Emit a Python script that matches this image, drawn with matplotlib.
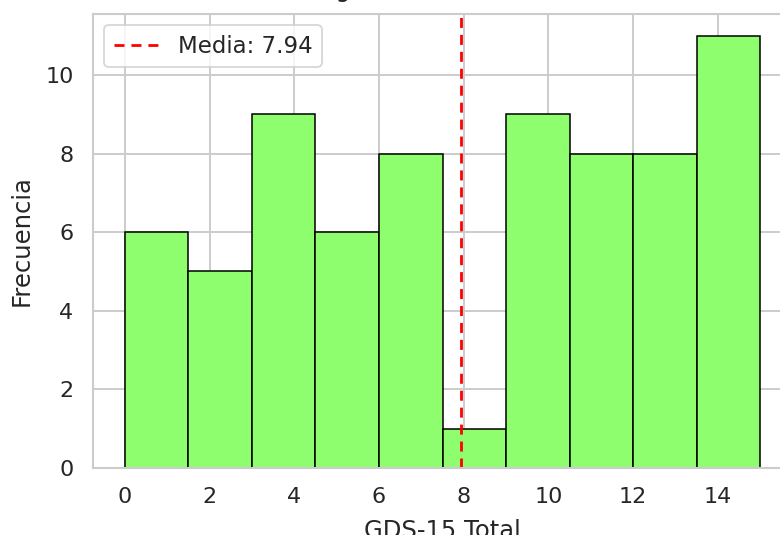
import numpy as np
import matplotlib
matplotlib.use("Agg")
import matplotlib.pyplot as plt

# histogram (10 bins of width 1.5 between 0 and 15)
bin_edges = [0, 1.5, 3, 4.5, 6, 7.5, 9, 10.5, 12, 13.5, 15]
counts = [6, 5, 9, 6, 8, 1, 9, 8, 8, 11]
mean_value = 7.94
x_ticks = [0, 2, 4, 6, 8, 10, 12, 14]
y_ticks = [0, 2, 4, 6, 8, 10]

plt.rcParams.update({
    "font.family": ["DejaVu Sans"],
    "text.color": "#262626",
    "axes.labelcolor": "#262626",
    "xtick.color": "#262626",
    "ytick.color": "#262626",
    "axes.edgecolor": "#cccccc",
    "grid.color": "#cccccc",
})

fig = plt.figure(figsize=(7.8, 5.35), dpi=100)
ax = fig.add_axes([93 / 780, 67 / 535, 699 / 780, 454 / 535])

ax.set_axisbelow(True)
ax.grid(True, linewidth=1.4)
ax.hist(bin_edges[:-1], bins=bin_edges, weights=counts,
        color="#8efe6f", edgecolor="black", linewidth=1.1)
ax.axvline(mean_value, color="red", linestyle=(0, (3.6, 2.5)), linewidth=2,
           label=f"Media: {mean_value:.2f}")

ax.set_xticks(x_ticks)
ax.set_yticks(y_ticks)
ax.tick_params(axis="both", length=0, pad=14, labelsize=16)
for side in ax.spines.values():
    side.set_linewidth(1.5)

ax.set_xlabel("GDS-15 Total", fontsize=17.5, labelpad=8)
ax.set_ylabel("Frecuencia", fontsize=17.5, labelpad=8)
# the title sits almost entirely above the visible area, as in the reference
ax.set_title("Histograma de GDS-15 Total", fontsize=17, pad=12)

leg = ax.legend(loc="upper left", fontsize=16.5, frameon=True)
leg.get_frame().set_edgecolor("#cccccc")
leg.get_frame().set_linewidth(1.3)

fig.savefig("out.png", dpi=100)
